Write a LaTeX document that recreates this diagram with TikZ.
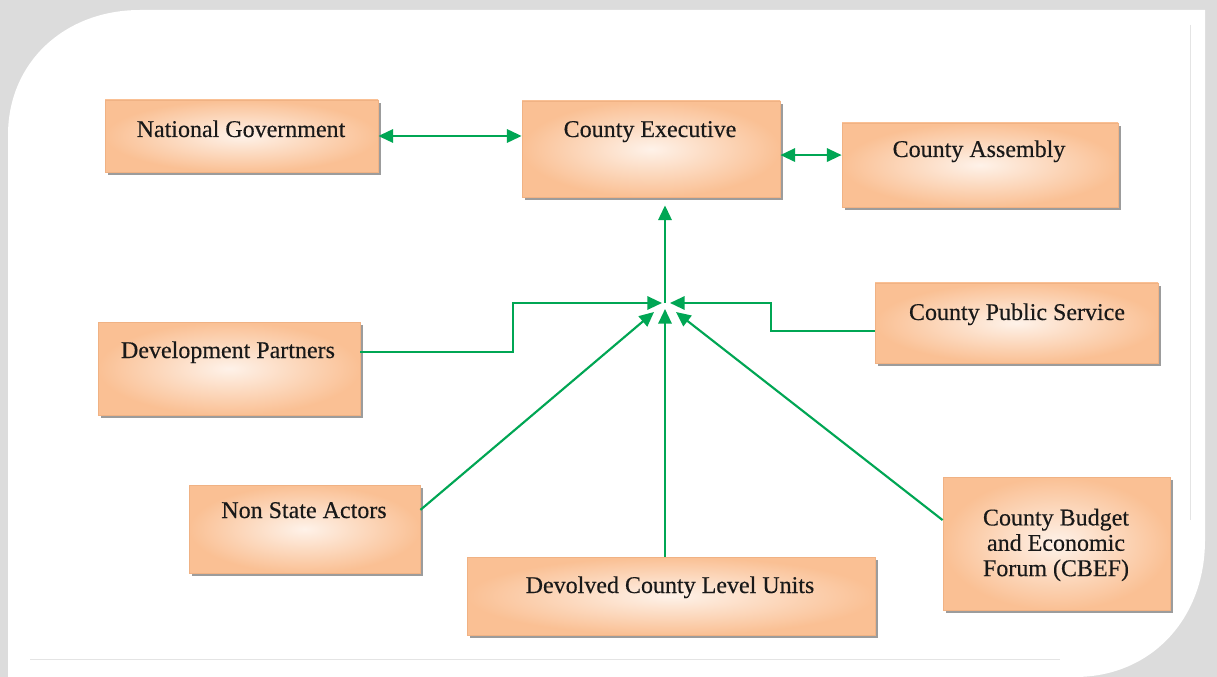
\documentclass[tikz,border=0pt]{standalone}
\usepackage{fontspec}
\setmainfont{Liberation Serif}
\usetikzlibrary{calc}
\usetikzlibrary{arrows.meta}
\usetikzlibrary{shadows}
\usetikzlibrary{fit}
\tikzset{every picture/.style={line width=0.75pt}}

\definecolor{frameGray}{RGB}{220,220,220}
\definecolor{frameLine}{RGB}{228,228,228}
\definecolor{boxOrange}{RGB}{250,192,148}
\definecolor{boxLight}{RGB}{254,242,233}
\definecolor{boxLine}{RGB}{240,178,132}
\definecolor{linkGreen}{RGB}{0,166,84}

\tikzset{
  box/.style={draw=boxLine, line width=0.6pt, inner sep=0pt,
    inner color=boxLight, outer color=boxOrange,
    drop shadow={shadow xshift=2pt, shadow yshift=-2.5pt, fill=black!70, opacity=0.55}},
  boxtext/.style={font=\fontsize{18}{19}\selectfont\addfontfeature{FakeBold=0.35}, text=black!90, inner sep=0.75pt},
  link/.style={draw=linkGreen, line width=1.6pt, >={Triangle[length=11pt,width=10pt]}},
}

\begin{document}
\begin{tikzpicture}[x=0.75pt,y=0.75pt,yscale=-1,xscale=1]
\useasboundingbox (0,0) rectangle (1217,677);

%Shape: Frame
\fill[frameGray] (0,0) rectangle (1217,677);
\fill[white] (8,677) -- (8,135) .. controls (8,62) and (65,10) .. (140,10) -- (1205,10) -- (1205,540) .. controls (1205,620) and (1150,677) .. (1075,677) -- cycle;
\draw[frameLine] (30,659) -- (1060,659);
\draw[frameLine] (1190,25) -- (1190,520);

%Shape: Rectangle
\node[box, fit={(105,100) (378,172)}] (ng) {};
%Shape: Rectangle
\node[box, fit={(522,101) (780,197)}] (ce) {};
%Shape: Rectangle
\node[box, fit={(842,123) (1118,207)}] (ca) {};
%Shape: Rectangle
\node[box, fit={(98,322) (360,415)}] (dp) {};
%Shape: Rectangle
\node[box, fit={(875,283) (1158,363)}] (cps) {};
%Shape: Rectangle
\node[box, fit={(189,485) (420,573)}] (nsa) {};
%Shape: Rectangle
\node[box, fit={(467,557) (875,635)}] (dclu) {};
%Shape: Rectangle
\node[box, fit={(943,477) (1170,610)}] (cbef) {};

% Text Node
\node[boxtext, anchor=base] (ngText) at (241,137) {National Government};
% Text Node
\node[boxtext, anchor=base] (ceText) at (650,137) {County Executive};
% Text Node
\node[boxtext, anchor=base] (caText) at (979,157) {County Assembly};
% Text Node
\node[boxtext, anchor=base] (dpText) at (228,358) {Development Partners};
% Text Node
\node[boxtext, anchor=base] (cpsText) at (1017,320) {County Public Service};
% Text Node
\node[boxtext, anchor=base] (nsaText) at (304,518) {Non State Actors};
% Text Node
\node[boxtext, anchor=base] (dcluText) at (670,593) {Devolved County Level Units};
% Text Node
\node[boxtext, align=center] (cbefText) at (1056,545) {County Budget\\and Economic\\Forum (CBEF)};

% Junction points
\coordinate (hub) at (665,303);
\coordinate (hubW) at (662,303);
\coordinate (hubE) at (670,303);
\coordinate (hubS) at (665,309);
\coordinate (hubSW) at (654,312);
\coordinate (hubSE) at (676,312);
\coordinate (stepL) at (513,303);
\coordinate (stepR) at (771,303);
\coordinate (ceR) at ($(ce.east)!0.125!(ce.south east)$);
\coordinate (dpR) at ($(dp.east)!0.35!(dp.north east)$);
\coordinate (cpsL) at ($(cps.west)!0.2!(cps.south west)$);
\coordinate (nsaR) at ($(nsa.east)!0.43!(nsa.north east)$);
\coordinate (cbefL) at ($(cbef.west)!0.35!(cbef.north west)$);

%Straight Lines
\draw[link,<->] (ng.east) -- (ng.east -| ce.west);
\draw[link,<->] (ceR) -- (ceR -| ca.west);
\draw[link,->,shorten >=6pt] (hub) -- (ce.south -| hub);
\draw[link,->] (dpR) -| (stepL) -- (hubW);
\draw[link,->] (cpsL) -| (stepR) -- (hubE);
\draw[link,->] (nsaR) -- (hubSW);
\draw[link,->] (cbefL) -- (hubSE);
\draw[link,->] (dclu.north -| hub) -- (hubS);

\end{tikzpicture}
\end{document}
